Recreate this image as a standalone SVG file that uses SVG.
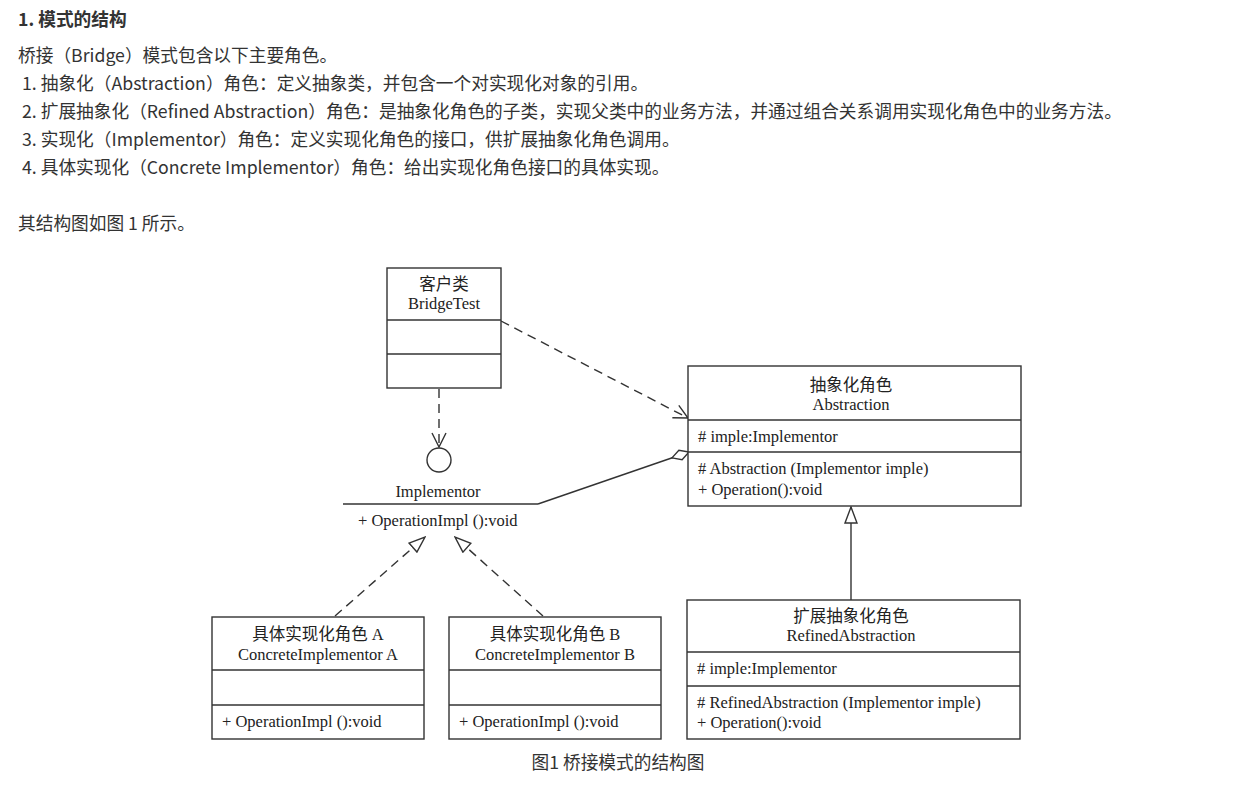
<svg xmlns="http://www.w3.org/2000/svg" width="1257" height="790" viewBox="0 0 1257 790">
<style>
.t{font-family:"Noto Sans CJK SC","Noto Sans",sans-serif;font-size:17.7px;fill:#333}
.h{font-weight:bold}
.d{font-family:"Liberation Serif","Noto Sans CJK SC",serif;font-size:16.5px;fill:#222}
.c{text-anchor:middle}
.box{fill:#fff;stroke:#333;stroke-width:1.4}
.ln{stroke:#333;stroke-width:1.4;fill:none}
.dash{stroke:#333;stroke-width:1.4;fill:none;stroke-dasharray:9 6}
</style>
<defs>
<marker id="open" viewBox="0 0 16 16" refX="15" refY="8" markerWidth="16" markerHeight="16" markerUnits="userSpaceOnUse" orient="auto">
<path d="M1,1 L15,8 L1,15" fill="none" stroke="#333" stroke-width="1.4"/>
</marker>
<marker id="tri" viewBox="0 0 18 14" refX="17" refY="7" markerWidth="18" markerHeight="14" markerUnits="userSpaceOnUse" orient="auto">
<path d="M1,1 L17,7 L1,13 Z" fill="#fff" stroke="#333" stroke-width="1.4"/>
</marker>
<marker id="dia" viewBox="0 0 20 12" refX="19" refY="6" markerWidth="20" markerHeight="12" markerUnits="userSpaceOnUse" orient="auto">
<path d="M1,6 L10,1 L19,6 L10,11 Z" fill="#fff" stroke="#333" stroke-width="1.4"/>
</marker>
</defs>
<rect width="1257" height="790" fill="#fff"/>
<g id="intro">
<text class="t h" x="18" y="26">1. 模式的结构</text>
<text class="t" x="18" y="62">桥接（Bridge）模式包含以下主要角色。</text>
<text class="t" x="22" y="90">1. 抽象化（Abstraction）角色：定义抽象类，并包含一个对实现化对象的引用。</text>
<text class="t" x="22" y="118">2. 扩展抽象化（Refined Abstraction）角色：是抽象化角色的子类，实现父类中的业务方法，并通过组合关系调用实现化角色中的业务方法。</text>
<text class="t" x="22" y="146">3. 实现化（Implementor）角色：定义实现化角色的接口，供扩展抽象化角色调用。</text>
<text class="t" x="22" y="174">4. 具体实现化（Concrete Implementor）角色：给出实现化角色接口的具体实现。</text>
<text class="t" x="18" y="230">其结构图如图 1 所示。</text>
</g>
<g id="connectors">
<line class="dash" x1="501" y1="321" x2="688" y2="418" marker-end="url(#open)"/>
<line class="dash" x1="439" y1="389" x2="439" y2="447" marker-end="url(#open)"/>
<line class="ln" x1="538" y1="504" x2="689" y2="452" marker-end="url(#dia)"/>
<line class="dash" x1="335" y1="616" x2="425" y2="537" marker-end="url(#tri)"/>
<line class="dash" x1="543" y1="616" x2="455" y2="537" marker-end="url(#tri)"/>
<line class="ln" x1="851" y1="600" x2="851" y2="507" marker-end="url(#tri)"/>
</g>
<g id="bridgeTest">
<rect class="box" x="387" y="268" width="114" height="120"/>
<line class="ln" x1="387" y1="320" x2="501" y2="320"/>
<line class="ln" x1="387" y1="354" x2="501" y2="354"/>
<text class="d c" x="444" y="290">客户类</text>
<text class="d c" x="444" y="309">BridgeTest</text>
</g>
<g id="implementor">
<circle cx="439" cy="460" r="12" fill="#fff" stroke="#333" stroke-width="1.4"/>
<text class="d c" x="438" y="497">Implementor</text>
<line class="ln" x1="343" y1="504" x2="538" y2="504"/>
<text class="d" x="358" y="526">+ OperationImpl ():void</text>
</g>
<g id="abstraction">
<rect class="box" x="688" y="366" width="333" height="140"/>
<line class="ln" x1="688" y1="420" x2="1021" y2="420"/>
<line class="ln" x1="688" y1="452" x2="1021" y2="452"/>
<text class="d c" x="851" y="391">抽象化角色</text>
<text class="d c" x="851" y="410">Abstraction</text>
<text class="d" x="698" y="442"># imple:Implementor</text>
<text class="d" x="698" y="474"># Abstraction (Implementor imple)</text>
<text class="d" x="698" y="495">+ Operation():void</text>
</g>
<g id="concreteA">
<rect class="box" x="212" y="617" width="212" height="122"/>
<line class="ln" x1="212" y1="670" x2="424" y2="670"/>
<line class="ln" x1="212" y1="705" x2="424" y2="705"/>
<text class="d c" x="318" y="640">具体实现化角色 A</text>
<text class="d c" x="318" y="660">ConcreteImplementor A</text>
<text class="d" x="222" y="727">+ OperationImpl ():void</text>
</g>
<g id="concreteB">
<rect class="box" x="449" y="617" width="212" height="122"/>
<line class="ln" x1="449" y1="670" x2="661" y2="670"/>
<line class="ln" x1="449" y1="705" x2="661" y2="705"/>
<text class="d c" x="555" y="640">具体实现化角色 B</text>
<text class="d c" x="555" y="660">ConcreteImplementor B</text>
<text class="d" x="459" y="727">+ OperationImpl ():void</text>
</g>
<g id="refinedAbstraction">
<rect class="box" x="687" y="600" width="333" height="139"/>
<line class="ln" x1="687" y1="652" x2="1020" y2="652"/>
<line class="ln" x1="687" y1="686" x2="1020" y2="686"/>
<text class="d c" x="851" y="622">扩展抽象化角色</text>
<text class="d c" x="851" y="641">RefinedAbstraction</text>
<text class="d" x="697" y="674"># imple:Implementor</text>
<text class="d" x="697" y="708"># RefinedAbstraction (Implementor imple)</text>
<text class="d" x="697" y="728">+ Operation():void</text>
</g>
<g id="caption">
<text class="t c" x="618" y="769">图1 桥接模式的结构图</text>
</g>
</svg>
